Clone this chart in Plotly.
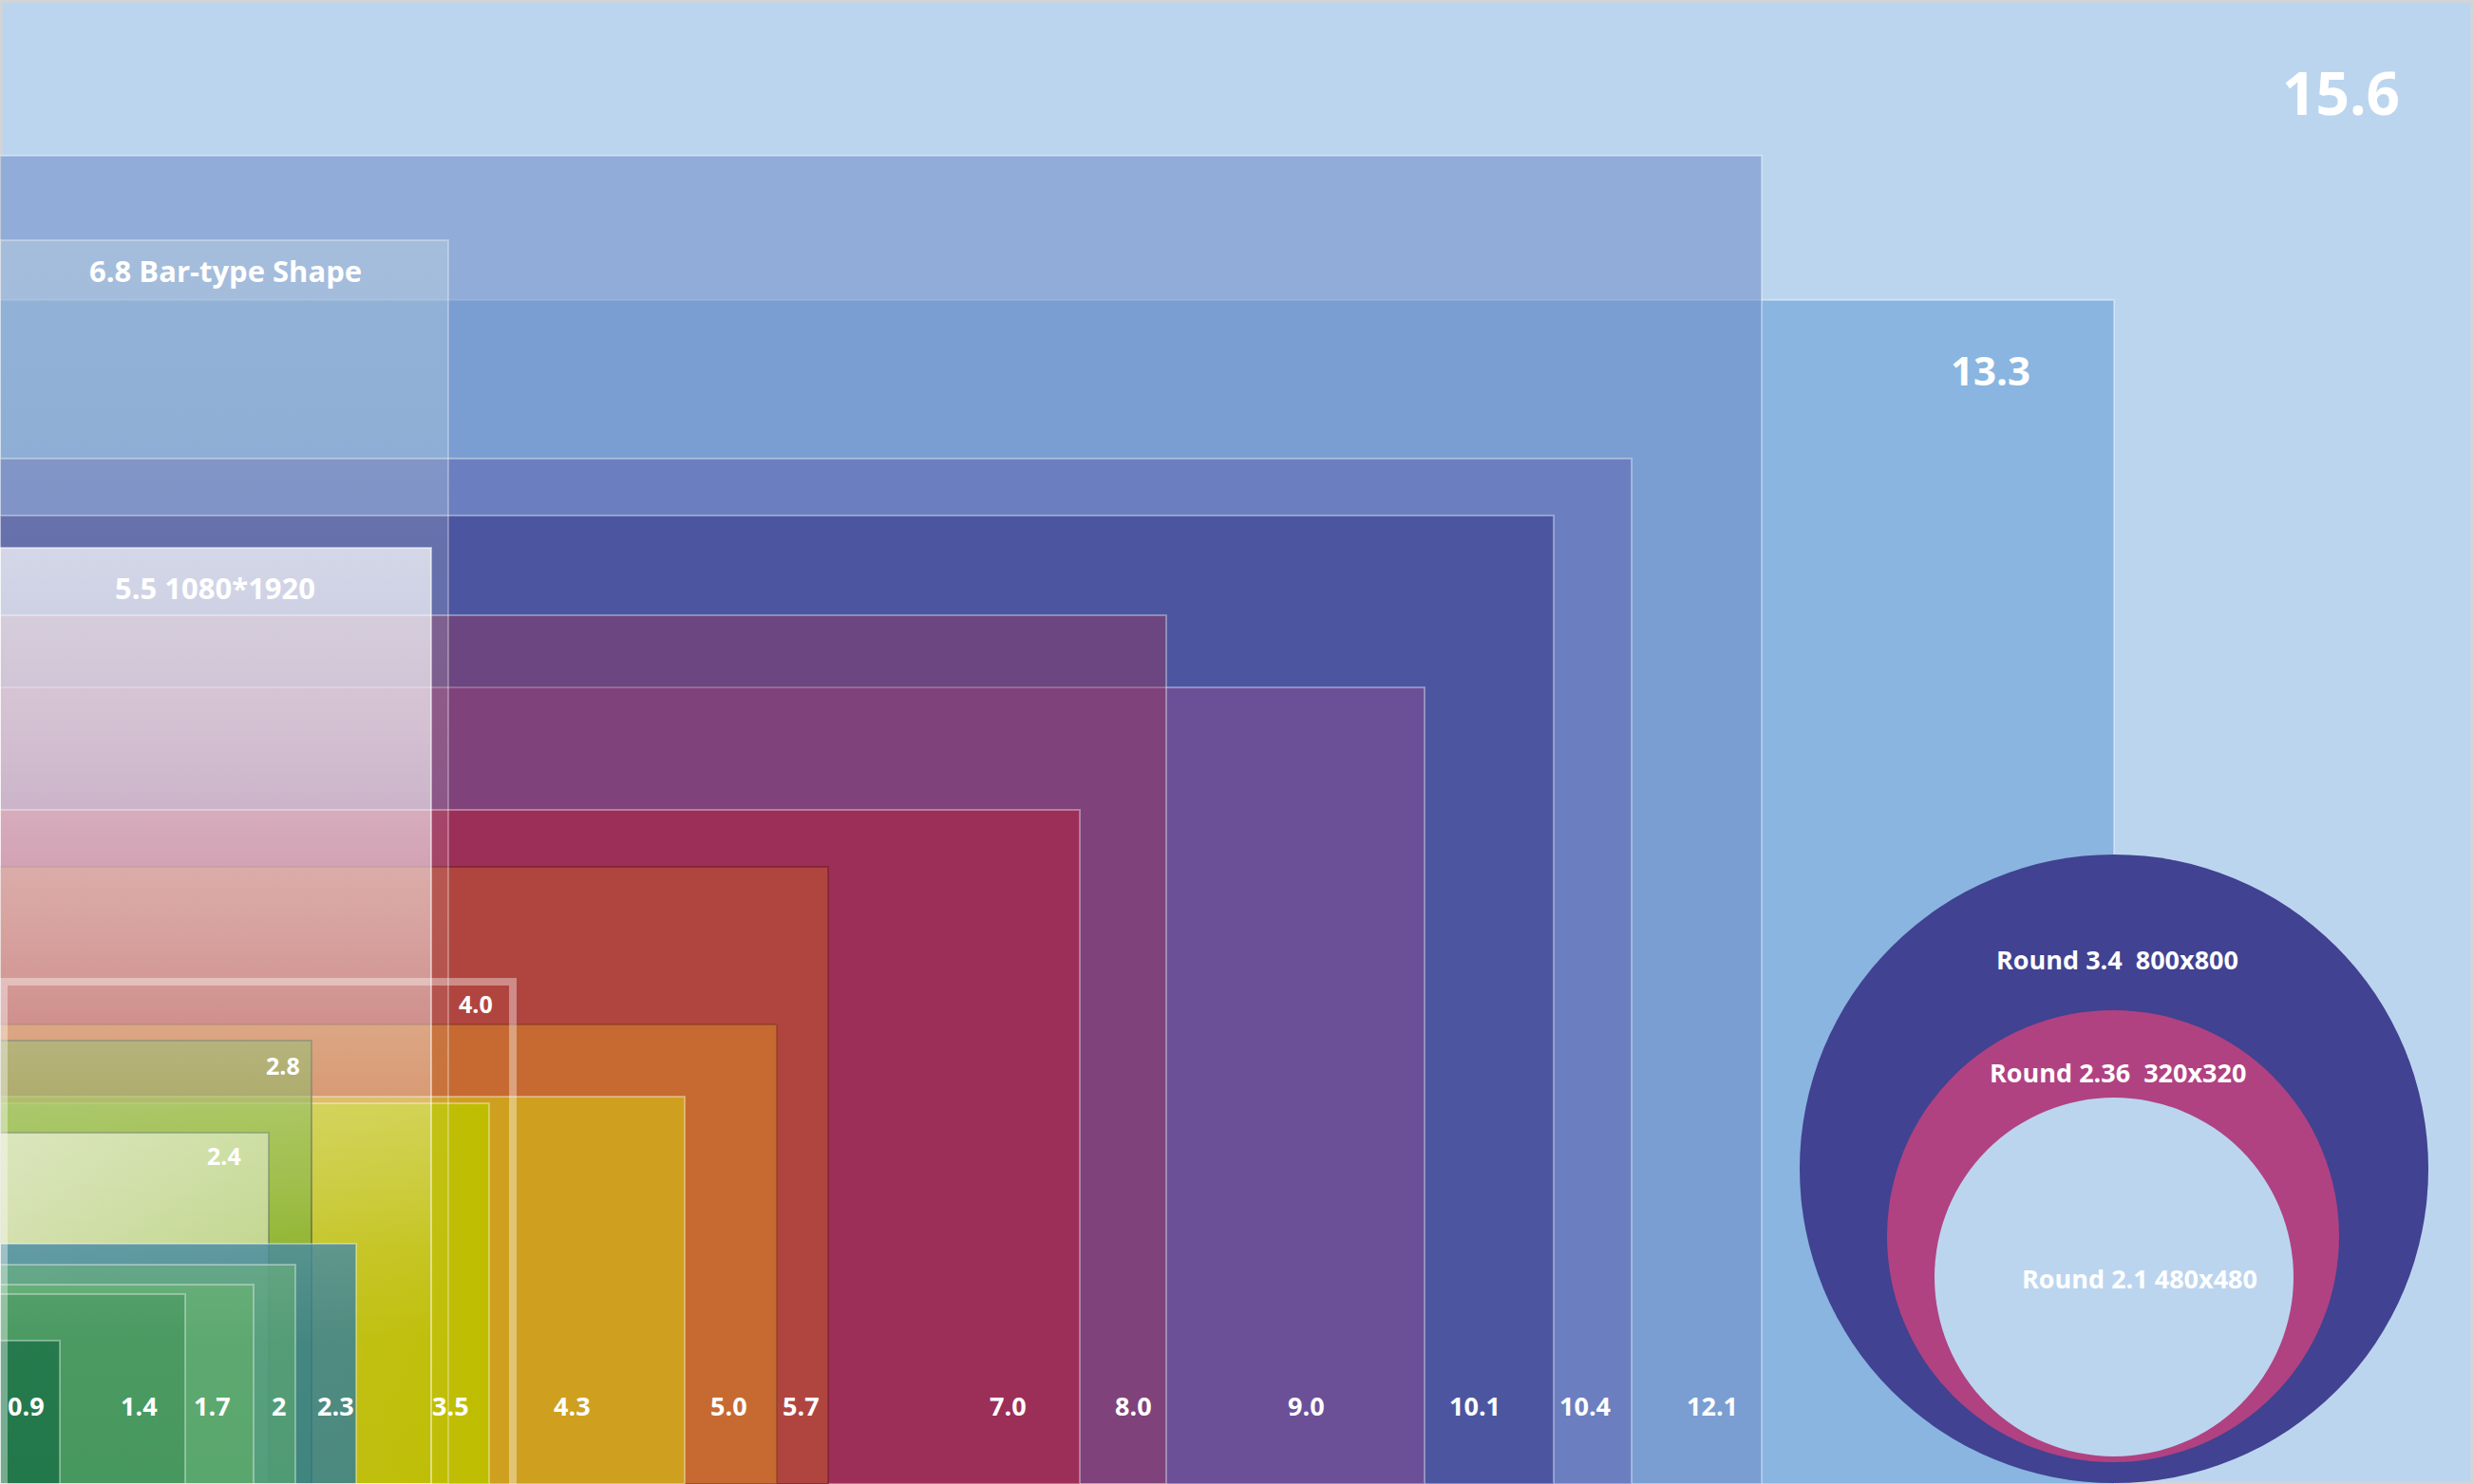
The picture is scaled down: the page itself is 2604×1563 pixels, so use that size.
import plotly.graph_objects as go

# ---------------- data (pixel-like units, y measured upward from bottom) ----------------
W, H = 2604, 1563

rect_labels = ["15.6", "13.3", "12.1", "10.4", "10.1", "9.0", "8.0", "7.0", "5.7", "5.0",
               "4.3", "3.5", "2.8", "2.4", "2.3", "2", "1.7", "1.4", "0.9"]
rect_w = [2604, 2226, 1855, 1718, 1636, 1500, 1228, 1137, 872, 818,
          721, 515, 328, 283, 375, 311, 267, 195, 63]
rect_h = [1563, 1247, 1399, 1080, 1020, 839, 915, 710, 650, 484,
          408, 401, 467, 370, 253, 231, 210, 200, 151]

# bottom labels
bottom_labels = ["0.9", "1.4", "1.7", "2", "2.3", "3.5", "4.3", "5.0", "5.7",
                 "7.0", "8.0", "9.0", "10.1", "10.4", "12.1"]
bottom_x = [27, 146, 223, 293, 353, 474, 602, 767, 843, 1061, 1193, 1375, 1553, 1669, 1803]
bottom_y = 83

# other labels
inner_labels = ["4.0", "2.8", "2.4"]
inner_x = [501, 298, 236]
inner_y = [506, 441, 346]

big_labels = ["15.6", "13.3"]
big_x = [2465, 2096]
big_y = [1466, 1174]
big_size = [62, 42]

# translucent overlay shapes
overlay_labels = ["6.8 Bar-type Shape", "5.5 1080*1920"]
overlay_w = [472, 454]
overlay_h = [1310, 986]
overlay_lx = [237, 226]
overlay_ly = [1278, 944]

# outline frame (4.0)
frame_w, frame_h = 540, 529

# round screens
round_labels = ["Round 3.4\u00a0\u00a0800x800", "Round 2.36\u00a0\u00a0320x320", "Round 2.1 480x480"]
round_cx = [2226, 2225, 2226]
round_cy = [332, 261, 218]
round_r = [331, 238, 189]
round_lx = [2229, 2230, 2253]
round_ly = [553, 434, 217]

# ---------------- styles ----------------
BG = "#BCD5EF"
rect_fill = {
    "15.6": BG,
    "13.3": "#89B5E0",
    "12.1": "rgba(110,138,197,0.55)",
    "10.4": "#6B7FC0",
    "10.1": "#4C56A0",
    "9.0": "#6B5098",
    "8.0": "rgba(166,41,70,0.355)",
    "7.0": "#9C2F58",
    "5.7": "#B04540",
    "5.0": "#C66A32",
    "4.3": "#CFA020",
    "3.5": ("#C2C438", "#BFBD00"),
    "2.8": "rgba(82,156,32,0.535)",
    "2.4": ("#CEDCA4", "#BCD282"),
    "2.3": "rgba(50,124,150,0.82)",
    "2": "rgba(92,170,108,0.6)",
    "1.7": "#5AA76E",
    "1.4": "#47985F",
    "0.9": "#22784A",
}
rect_line = {
    "15.6": ("#D4D4D4", 5),
    "5.7": ("rgba(110,30,35,0.55)", 2),
    "5.0": ("rgba(120,50,30,0.45)", 2),
    "2.8": ("rgba(60,62,40,0.6)", 2),
    "2.4": ("rgba(70,100,60,0.55)", 2),
}
round_fill = ["#414291", "#B04282", BG]

FONT = "Open Sans"

fig = go.Figure()

for lab, w, h in zip(rect_labels, rect_w, rect_h):
    fill = rect_fill[lab]
    lc, lw = rect_line.get(lab, ("rgba(255,255,255,0.35)", 2))
    kw = dict(x=[0, w, w, 0, 0], y=[0, 0, h, h, 0], mode="lines", fill="toself",
              line=dict(color=lc, width=lw), hoverinfo="skip", showlegend=False)
    if isinstance(fill, tuple):
        kw["fillgradient"] = dict(type="horizontal", colorscale=[[0, fill[0]], [1, fill[1]]],
                                  start=0, stop=w)
    else:
        kw["fillcolor"] = fill
    fig.add_trace(go.Scatter(**kw))

# overlays (vertical fading gradients)
overlay_scales = [
    [[0, "rgba(235,250,232,0.0)"], [0.12, "rgba(235,250,232,0.02)"], [1, "rgba(235,250,232,0.22)"]],
    [[0, "rgba(255,255,255,0.0)"], [0.15, "rgba(255,255,255,0.0)"], [0.25, "rgba(255,255,255,0.08)"],
     [0.32, "rgba(255,255,255,0.18)"], [0.44, "rgba(255,255,255,0.31)"],
     [0.59, "rgba(255,255,255,0.45)"], [0.794, "rgba(255,255,255,0.61)"],
     [1, "rgba(255,255,255,0.72)"]],
]
overlay_lines = ["rgba(255,255,255,0.30)", "rgba(255,255,255,0.50)"]
for w, h, cs, lc in zip(overlay_w, overlay_h, overlay_scales, overlay_lines):
    fig.add_trace(go.Scatter(x=[0, w, w, 0, 0], y=[0, 0, h, h, 0], mode="lines", fill="toself",
                             fillgradient=dict(type="vertical", colorscale=cs, start=0, stop=h),
                             line=dict(color=lc, width=2), hoverinfo="skip", showlegend=False))

# 4.0 outline frame
fig.add_trace(go.Scatter(x=[4, 4, frame_w, frame_w], y=[0, frame_h, frame_h, 0], mode="lines",
                         line=dict(color="rgba(255,255,255,0.38)", width=8),
                         hoverinfo="skip", showlegend=False))

# round screens
for cx, cy, r, col in zip(round_cx, round_cy, round_r, round_fill):
    fig.add_shape(type="circle", xref="x", yref="y", x0=cx - r, x1=cx + r, y0=cy - r, y1=cy + r,
                  fillcolor=col, line=dict(width=0), layer="above")

ann = []
def add_label(text, x, y, size):
    ann.append(dict(text=text, x=x, y=y, xref="x", yref="y", showarrow=False,
                    xanchor="center", yanchor="middle",
                    font=dict(family=FONT, size=size, color="white", weight="bold")))

for t, x in zip(bottom_labels, bottom_x):
    add_label(t, x, bottom_y, 27)
for t, x, y in zip(inner_labels, inner_x, inner_y):
    add_label(t, x, y, 25)
for t, x, y, s in zip(big_labels, big_x, big_y, big_size):
    add_label(t, x, y, s)
for t, x, y in zip(overlay_labels, overlay_lx, overlay_ly):
    add_label(t, x, y, 31)
for t, x, y in zip(round_labels, round_lx, round_ly):
    add_label(t, x, y, 27)

fig.update_layout(
    width=W, height=H, margin=dict(l=0, r=0, t=0, b=0),
    paper_bgcolor=BG, plot_bgcolor=BG, showlegend=False,
    xaxis=dict(range=[0, W], visible=False, fixedrange=True),
    yaxis=dict(range=[0, H], visible=False, fixedrange=True),
    annotations=ann,
)

fig.write_html("out.html", config={"displayModeBar": False},
               post_script="document.body.style.margin='0';document.body.style.overflow='hidden';")
